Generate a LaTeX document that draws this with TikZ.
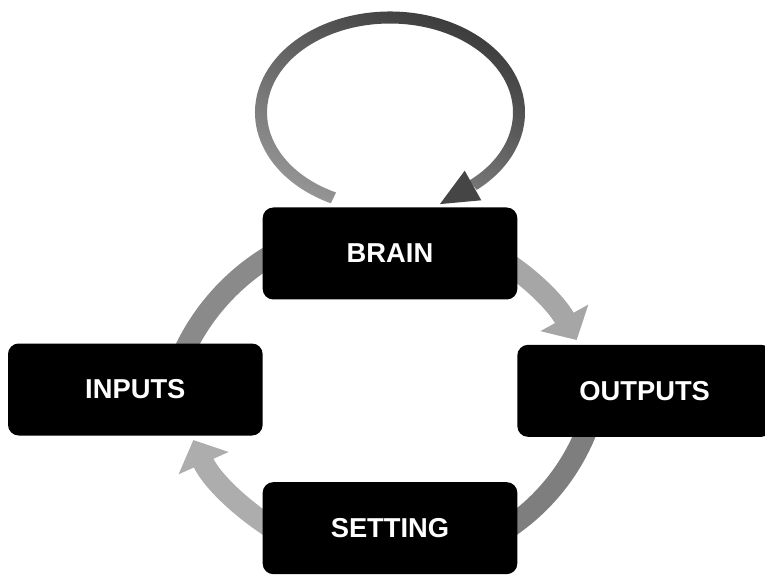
\documentclass[tikz,border=0pt]{standalone}
\usepackage{fontspec}
\newfontfamily\boxfont{Liberation Sans}
\usetikzlibrary{arrows.meta, positioning, backgrounds}
\usepackage{xcolor}
\definecolor{loopdark}{HTML}{363636}
\definecolor{looplight}{HTML}{959595}
\definecolor{loophead}{HTML}{454545}
\definecolor{flowa}{HTML}{8A8A8A}
\definecolor{flowb}{HTML}{A6A6A6}
\definecolor{flowc}{HTML}{7E7E7E}
\definecolor{flowd}{HTML}{ADADAD}

\begin{document}
\begin{tikzpicture}[
x=0.75pt, y=0.75pt,
box/.style={fill=black, rounded corners=8pt, text=white,
minimum width=191pt, minimum height=69pt, inner sep=0pt, outer sep=0pt,
font=\boxfont\bfseries\fontsize{20.5}{24}\selectfont},
flow/.style={line width=16pt},
arrow/.style={flow, -{Triangle[length=19pt, width=40pt]}}
]

\useasboundingbox (0,0) rectangle (765,576);

\node[box] (brain) at (390,322.5) {BRAIN};
\node[box, below left=33pt and 0pt of brain] (inputs) {INPUTS};
\node[box, below right=34pt and 0pt of brain] (outputs) {OUTPUTS};
\node[box, below=137pt of brain] (setting) {SETTING};

\begin{pgfonlayer}{background}
\draw[flow, draw=flowa] ([shift={(50.3,-4.7)}]inputs.north) to[out=64, in=208, looseness=0.87] ([shift={(17.2,3.1)}]brain.west);
\draw[arrow, draw=flowb] ([shift={(-31.2,3.1)}]brain.east) to[out=-28, in=119, looseness=0.87] ([shift={(-68,4.8)}]outputs.north);
\draw[flow, draw=flowc] ([shift={(-55.8,12.3)}]outputs.south) to[out=-110, in=30, looseness=0.88] ([shift={(-21.5,-7.4)}]setting.east);
\draw[arrow, draw=flowd] ([shift={(21.5,-7.4)}]setting.west) to[out=150, in=-66, looseness=0.87] ([shift={(58,-4.5)}]inputs.south);
\end{pgfonlayer}

% loop back into brain
\coordinate (loopc) at ([shift={(0,95)}]brain.north);
\shade[top color=loopdark, bottom color=looplight, shading angle=-25]
([shift={(244:135 and 101)}]loopc) arc[start angle=244, end angle=-50, x radius=135, y radius=101]
-- ([shift={(-50:123 and 89)}]loopc) arc[start angle=-50, end angle=244, x radius=123, y radius=89] -- cycle;
\fill[loophead] ([shift={(91.3,-87.8)}]loopc) -- ([shift={(49.9,-91.6)}]loopc) -- ([shift={(74.7,-58.2)}]loopc) -- cycle;

\end{tikzpicture}
\end{document}
